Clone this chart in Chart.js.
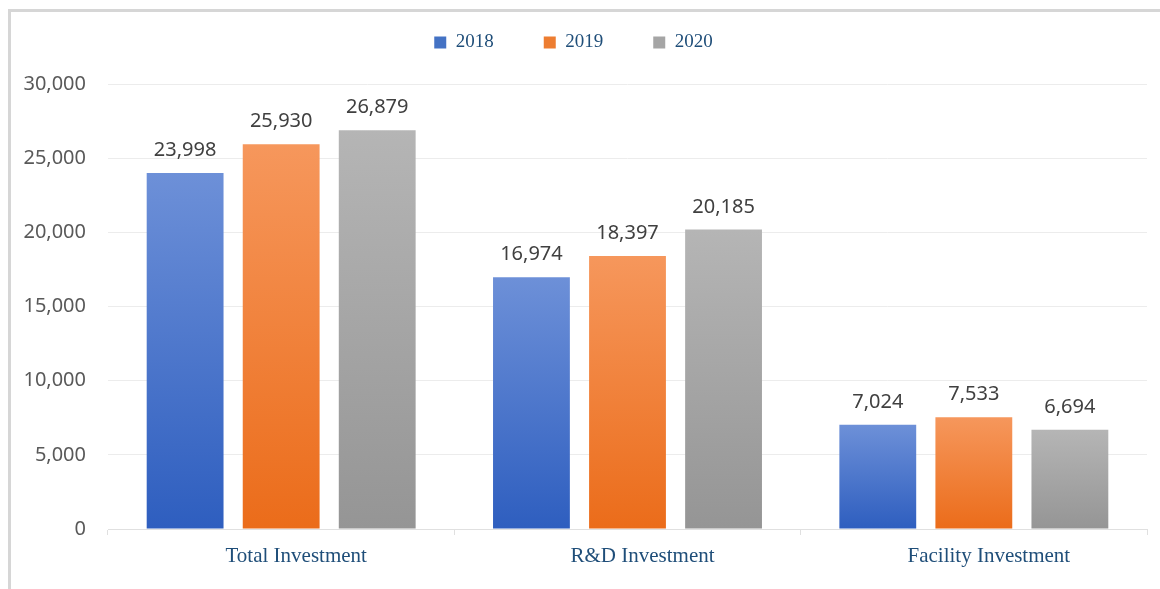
<!DOCTYPE html>
<html>
<head>
<meta charset="utf-8">
<script src="https://cdn.jsdelivr.net/npm/chart.js@4.4.1/dist/chart.umd.min.js"></script>
<style>
  html, body { margin: 0; padding: 0; background: #fff; }
  #wrap { position: relative; width: 1160px; height: 589px; overflow: hidden; }
  #frame {
    position: absolute; left: 8px; top: 9px; width: 1200px; height: 640px;
    border-top: 3px solid #d6d6d6; border-left: 3px solid #d6d6d6;
    pointer-events: none;
  }
  canvas { position: absolute; left: 0; top: 0; }
</style>
</head>
<body>
<div id="wrap">
  <canvas id="chart" width="1160" height="589"></canvas>
  <div id="frame"></div>
</div>
<script>
// Données
const categories = ['Total Investment', 'R&D Investment', 'Facility Investment'];
const years      = ['2018', '2019', '2020'];
const v2018      = [23998, 16974, 7024];
const v2019      = [25930, 18397, 7533];
const v2020      = [26879, 20185, 6694];
const yTicks     = [0, 5000, 10000, 15000, 20000, 25000, 30000];

// Couleurs (haut / bas du dégradé, couleur de légende)
const PALETTE = [
  { top: '#6d90d8', bottom: '#2e5ebf', solid: '#4472c4' },
  { top: '#f6975c', bottom: '#eb6c1a', solid: '#ed7d31' },
  { top: '#b5b5b5', bottom: '#959595', solid: '#a5a5a5' },
];

function barGradient(i) {
  return ctx => {
    const chart = ctx.chart;
    const y = chart.scales.y;
    if (!chart.chartArea || !y || ctx.raw == null) return PALETTE[i].solid;
    const top = y.getPixelForValue(ctx.raw);
    const bot = y.getPixelForValue(0);
    const g = chart.ctx.createLinearGradient(0, top, 0, bot);
    g.addColorStop(0, PALETTE[i].top);
    g.addColorStop(1, PALETTE[i].bottom);
    return g;
  };
}

// Espace supplémentaire sous la légende
const legendGap = {
  id: 'legendGap',
  beforeInit(chart) {
    const fit = chart.legend.fit;
    chart.legend.fit = function () {
      fit.bind(chart.legend)();
      this.height += 22;
    };
  },
};

// Étiquettes de valeur au-dessus des barres
const valueLabels = {
  id: 'valueLabels',
  afterDatasetsDraw(chart) {
    const { ctx } = chart;
    ctx.save();
    ctx.font = '20px "Noto Sans"';
    ctx.fillStyle = '#404040';
    ctx.textAlign = 'center';
    ctx.textBaseline = 'alphabetic';
    chart.data.datasets.forEach((ds, di) => {
      chart.getDatasetMeta(di).data.forEach((bar, i) => {
        ctx.fillText(ds.data[i].toLocaleString('en-US'), bar.x, bar.y - 17);
      });
    });
    ctx.restore();
  },
};

new Chart(document.getElementById('chart'), {
  type: 'bar',
  data: {
    labels: categories,
    datasets: [v2018, v2019, v2020].map((d, i) => ({
      label: years[i],
      data: d,
      backgroundColor: barGradient(i),
      borderWidth: 0,
      categoryPercentage: 0.832,
      barPercentage: 0.80,
    })),
  },
  options: {
    responsive: false,
    animation: false,
    layout: { padding: { top: -17, right: 13, left: 0, bottom: 0 } },
    plugins: {
      tooltip: { enabled: false },
      legend: {
        position: 'top',
        labels: {
          color: '#1f4e79',
          font: { family: '"Liberation Serif"', size: 19 },
          boxWidth: 12, boxHeight: 12,
          padding: 50,
          generateLabels: chart => chart.data.datasets.map((ds, i) => ({
            text: ds.label,
            fillStyle: PALETTE[i].solid,
            strokeStyle: PALETTE[i].solid,
            lineWidth: 0,
            fontColor: '#1f4e79',
            datasetIndex: i,
          })),
        },
      },
    },
    scales: {
      x: {
        grid: { drawOnChartArea: false, drawTicks: true, tickLength: 6, color: '#e0e0e0' },
        border: { display: true, color: '#e0e0e0' },
        ticks: {
          color: '#1f4e79',
          font: { family: '"Liberation Serif"', size: 21 },
          padding: 9,
          labelOffset: 15,
        },
        afterFit: s => { s.height = 60; },
      },
      y: {
        min: 0, max: 30000,
        afterBuildTicks: s => { s.ticks = yTicks.map(v => ({ value: v })); },
        grid: { color: '#ececec', drawTicks: false },
        border: { display: false },
        ticks: {
          color: '#595959',
          font: { family: '"Noto Sans"', size: 20 },
          padding: 22,
          callback: v => v.toLocaleString('en-US'),
        },
        afterFit: s => { s.width = 108; },
      },
    },
  },
  plugins: [legendGap, valueLabels],
});
</script>
</body>
</html>
